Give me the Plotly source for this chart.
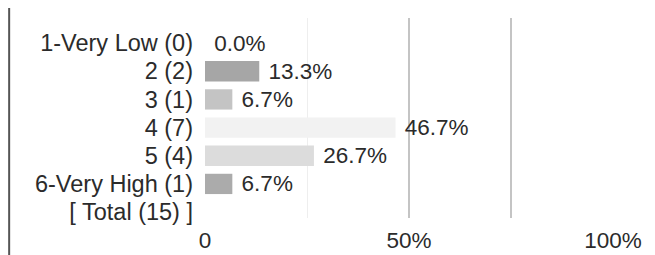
import plotly.graph_objects as go

categories = ["1-Very Low (0)", "2 (2)", "3 (1)", "4 (7)", "5 (4)", "6-Very High (1)", "[ Total (15) ]"]
percents = [0.0, 13.3, 6.7, 46.7, 26.7, 6.7, None]
bar_colors = ["#bdbdbd", "#a6a6a6", "#c4c4c4", "#f2f2f2", "#dcdcdc", "#ababab", "#ffffff"]
x_tick_vals = [0, 50, 100]
x_tick_text = ["0", "50%", "100%"]
grid_strong = [50, 75]
grid_faint = [25]

ypos = list(range(len(categories)))
texts = [("\u00a0%.1f%%" % p) if p is not None else "" for p in percents]

FONT = "Liberation Sans, Arial, sans-serif"
TXT = "#2b2b2b"
FS = 23.5

fig = go.Figure()
fig.add_trace(go.Bar(
    x=percents, y=ypos, orientation="h",
    marker=dict(color=bar_colors, line=dict(width=0)),
    width=0.72,
    text=texts, textposition="outside", constraintext="none",
    textfont=dict(family=FONT, size=22.5, color=TXT),
    cliponaxis=False, showlegend=False, hoverinfo="skip",
))
for ax in ("x2", "x3"):
    fig.add_trace(go.Scatter(x=[0], y=[0], xaxis=ax, mode="markers",
                             marker=dict(opacity=0), showlegend=False, hoverinfo="skip"))

fig.update_layout(
    width=655, height=255,
    margin=dict(l=197, r=50, t=10, b=34),
    paper_bgcolor="white", plot_bgcolor="white",
    font=dict(family=FONT, size=FS, color=TXT),
    xaxis=dict(range=[0, 100], tickvals=x_tick_vals, ticktext=x_tick_text,
               showgrid=False, zeroline=False, showline=False,
               ticklabelstandoff=6, tickfont=dict(size=22.5, color=TXT)),
    xaxis2=dict(range=[0, 100], overlaying="x", side="bottom", tickvals=grid_strong,
                showticklabels=False, showgrid=True, gridcolor="#c4c4c4", gridwidth=1.5,
                zeroline=False, showline=False),
    xaxis3=dict(range=[0, 100], overlaying="x", side="bottom", tickvals=grid_faint,
                showticklabels=False, showgrid=True, gridcolor="#eeeeee", gridwidth=1,
                zeroline=False, showline=False),
    yaxis=dict(range=[6.21, -0.89], tickvals=ypos, ticktext=categories,
               showgrid=False, zeroline=False, showline=False,
               ticklabelstandoff=11, tickfont=dict(size=FS, color=TXT)),
    shapes=[dict(type="line", xref="paper", yref="paper", x0=-0.48, x1=-0.48,
                 y0=-0.3, y1=1.1, line=dict(color="#555555", width=2))],
)
fig.write_html("out.html")
